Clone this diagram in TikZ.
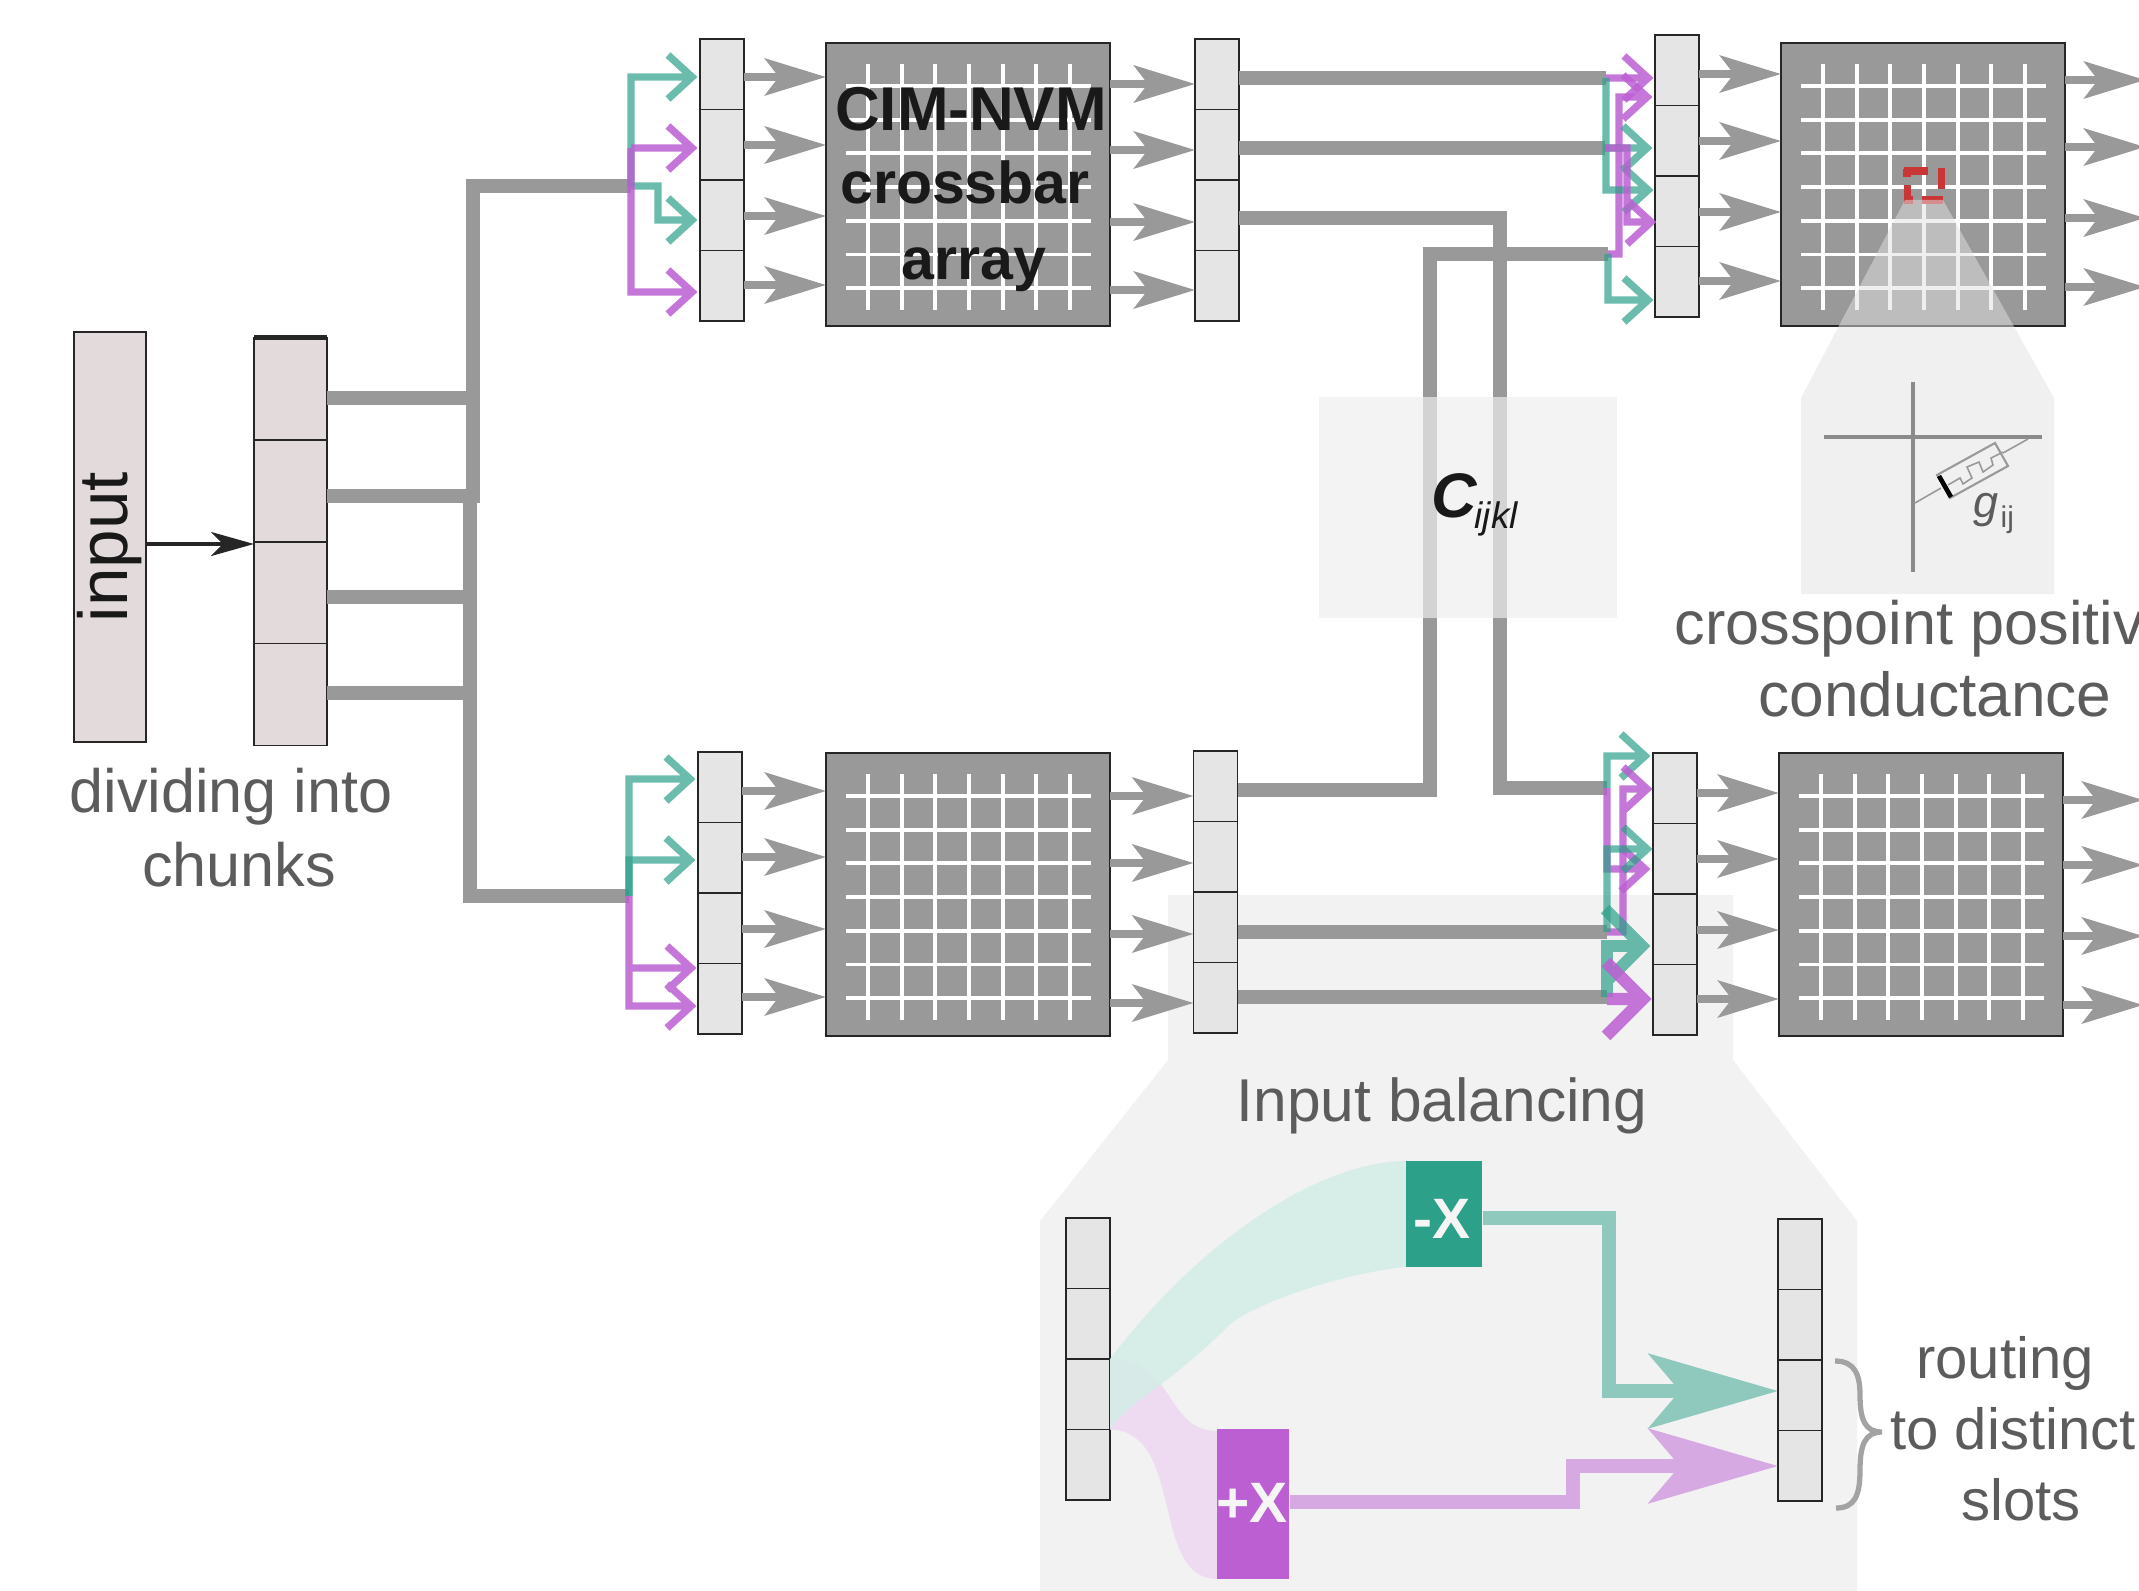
\documentclass[tikz,border=0pt]{standalone}
\usepackage{fontspec}
\setmainfont{Liberation Sans}
\usetikzlibrary{arrows.meta}
\definecolor{barfill}{HTML}{999999}
\definecolor{cellfill}{HTML}{E5E5E5}
\definecolor{chunkfill}{HTML}{E3DBDB}
\definecolor{edgedark}{HTML}{262626}
\definecolor{textgray}{HTML}{5C5C5C}
\definecolor{tealbase}{HTML}{2CA089}
\definecolor{violetbase}{HTML}{BB5FD2}
\definecolor{tealflow}{HTML}{D3EDE7}
\definecolor{violetflow}{HTML}{EEDBF2}
\definecolor{panelgray}{HTML}{F2F2F2}
\definecolor{lens}{HTML}{E1E1E1}
\definecolor{tensorgray}{HTML}{EEEEEE}
\definecolor{markred}{HTML}{C93636}
\tikzset{
  cell/.style={draw=edgedark, line width=.35pt, fill=cellfill, minimum width=.44cm, minimum height=.705cm, inner sep=0pt, outer sep=0pt},
  chunkcell/.style={cell, fill=chunkfill, line width=.5pt, minimum width=.73cm, minimum height=1.02cm},
  crossbar/.style={draw=edgedark, line width=.4pt, fill=barfill, minimum width=2.84cm, minimum height=2.83cm, inner sep=0pt, outer sep=0pt},
  gridline/.style={white, line width=1.1pt},
  bus/.style={barfill, line width=4.2pt},
  signal/.style={barfill, line width=2.1pt, -{Stealth[length=.61cm,width=.37cm,inset=.14cm]}},
  chev/.style={insert path={++(-24,-22) -- ++(24,22) -- ++(-24,22)}},
  chevbig/.style={insert path={++(-37,-37) -- ++(37,37) -- ++(-37,37)}},
  tealroute/.style={tealbase, draw opacity=.7, line width=2.1pt},
  violetroute/.style={violetbase, draw opacity=.85, line width=2.1pt},
  lbl/.style={anchor=base, inner sep=0pt, text=textgray, font=\fontsize{17.4}{20}\selectfont},
  sidelbl/.style={lbl, font=\fontsize{16.5}{20}\selectfont},
  boldlbl/.style={anchor=base, inner sep=0pt, text=black!90, font=\fontsize{17.6}{20}\selectfont\bfseries},
  signlbl/.style={anchor=base, inner sep=0pt, text=white!96!black, font=\fontsize{16.2}{20}\selectfont\bfseries},
  bigarrow/.style={line width=4.1pt, -{Stealth[length=1.29cm,width=.74cm,inset=.31cm]}},
}
\begin{document}
\begin{tikzpicture}[x=.01cm,y=-.01cm]
    \useasboundingbox (0,0) rectangle (2139,1591);

    % Shaded region behind the balancing detail
    \fill[panelgray] (1168,895) -- (1733,895) -- (1733,1060) -- (1857,1221) -- (1857,1591) -- (1040,1591) -- (1040,1221) -- (1168,1060) -- cycle;

    % Input and its chunks
    \node[chunkcell, minimum width=.72cm, minimum height=4.1cm] (input) at (110,537) {};
    \node[anchor=base, rotate=90, inner sep=0pt, text=black!90, font=\fontsize{19.7}{22}\selectfont] (inputlabel) at (127,547) {input};
    \foreach \k/\cy in {1/388.5, 2/491, 3/593, 4/694.5}
      \node[chunkcell] (chunk\k) at (290.5,\cy) {};
    \draw[edgedark, line width=1.2pt] (chunk1.north west) -- (chunk1.north east);
    \draw[edgedark, line width=1.35pt, -{Stealth[length=.43cm,width=.24cm,inset=.12cm]}] (input.east |- 0,544) -- (chunk3.west |- 0,544);

    % Crossbar arrays
    \foreach \n/\px/\py in {cbA/826/43, cbB/1781/43, cbC/826/753, cbD/1779/753} {
      \node[crossbar] (\n) at (\px+142,\py+141.5) {};
      \foreach \i in {0,...,6} {
        \draw[gridline] (\px+42+33.67*\i,\py+21) -- ++(0,246);
        \draw[gridline] (\px+20,\py+43+33.7*\i) -- ++(245,0);
      }
    }

    % Cell columns
    \foreach \n/\cx/\ty in {colA/722/39, colB/1217/39, colC/1677/35, colD/720/752, colE/1215.5/751, colF/1675/753, colG/1088/1218, colH/1800/1219}
      \foreach \k in {1,...,4}
        \node[cell] (\n\k) at (\cx,\ty+70.5*\k-35.25) {};

    % Where the buses end
    \coordinate (jA) at (631,186);
    \coordinate (jD) at (629,896);
    \coordinate (trunkT) at (473,186);
    \coordinate (trunkB) at (470,896);
    \coordinate (jB1) at (1606,78);
    \coordinate (jB2) at (1605,148);
    \coordinate (jB3) at (1608,254);
    \coordinate (jF1) at (1607,788);
    \coordinate (jF2) at (1607,932);
    \coordinate (jF3) at (1607,997);
    \coordinate (elbowB) at (1500,788);
    \coordinate (elbowE) at (1430,254);

    % Buses
    \draw[bus] (chunk2.east |- 0,496) -| (trunkT) -- (jA);
    \draw[bus] (chunk1.east |- 0,398) -- (trunkT |- 0,398);
    \draw[bus] (trunkB |- 0,490) -- (trunkB) -- (jD);
    \draw[bus] (chunk3.east |- 0,597) -- (trunkB |- 0,597);
    \draw[bus] (chunk4.east |- 0,693) -- (trunkB |- 0,693);
    \draw[bus] (colB1.east |- jB1) -- (jB1);
    \draw[bus] (colB2.east |- jB2) -- (jB2);
    \draw[bus] (colB3.east |- 0,218) -| (elbowB) -- (jF1);
    \draw[bus] (colE1.east |- 0,790) -| (elbowE) -- (jB3);
    \draw[bus] (colE3.east |- jF2) -- (jF2);
    \draw[bus] (colE4.east |- jF3) -- (jF3);

    % Signals through the arrays
    \foreach \a/\b/\y in {colA1/cbA/77, colA2/cbA/145, colA3/cbA/216, colA4/cbA/285,
                          colC1/cbB/74, colC2/cbB/141, colC3/cbB/212, colC4/cbB/281,
                          colD1/cbC/791, colD2/cbC/857, colD3/cbC/929, colD4/cbC/997,
                          colF1/cbD/793, colF2/cbD/859, colF3/cbD/930, colF4/cbD/999}
      \draw[signal] (\a.east |- 0,\y) -- (\b.west |- 0,\y);
    \foreach \a/\b/\y in {cbA/colB1/84, cbA/colB2/150, cbA/colB3/222, cbA/colB4/290,
                          cbC/colE1/796, cbC/colE2/863, cbC/colE3/934, cbC/colE4/1003}
      \draw[signal] (\a.east |- 0,\y) -- (\b.west |- 0,\y);
    \foreach \a/\y in {cbB/80, cbB/147, cbB/218, cbB/287, cbD/800, cbD/865, cbD/936, cbD/1005}
      \draw[signal] (\a.east |- 0,\y) -- ++(80,0);

    % Tips of the routing arrows
    \foreach \n/\tx/\ty in {tA1/692/77, tA2/692/148, tA3/692/220, tA4/692/292,
                            tC1/1648/78, tC2/1647/97, tC3/1648/190, tC4/1647/148, tC5/1651/222, tC6/1648/300,
                            tD1/690/779, tD2/690/860, tD3/691/968, tD4/691/1006,
                            tF1/1645/756, tF2/1645/869, tF3/1647/789, tF4/1647/849, tF5/1642/946, tF6/1643/999}
      \coordinate (\n) at (\tx,\ty);

    % Routing, upper left
    \draw[tealroute] (jA) |- (tA1) [chev];
    \draw[tealroute] (jA) -- ++(27,0) |- (tA3) [chev];
    \draw[violetroute] (jA |- tA2) -- (tA2) [chev] (jA |- tA2) |- (tA4) [chev];

    % Routing, upper right
    \draw[violetroute] (jB1) -- (tC1) [chev];
    \draw[violetroute] (jB3) -- ++(11,0) |- (tC2) [chev];
    \draw[tealroute] (jB1) |- (tC3) [chev];
    \draw[tealroute] (jB2) -- (tC4) [chev];
    \draw[violetroute] (jB2) -- ++(22,0) |- (tC5) [chev];
    \draw[tealroute] (jB3) |- (tC6) [chev];

    % Routing, lower left
    \draw[tealroute] (jD) |- (tD1) [chev];
    \draw[tealroute] (jD) |- (tD2) [chev];
    \draw[violetroute] (jD |- tD3) -- (tD3) [chev] (jD) |- (tD4) [chev];

    % Routing, lower right
    \draw[tealroute] (jF1) |- (tF1) [chev];
    \draw[violetroute] (jF1) |- (tF2) [chev];
    \draw[violetroute] (jF2) -- ++(16,0) |- (tF3) [chev];
    \draw[tealroute] (jF2) |- (tF4) [chev];
    \draw[tealroute, line width=3.4pt] (jF3) |- (tF5) [chevbig];
    \draw[violetroute, line width=3.5pt] (jF3 |- tF6) -- (tF6) [chevbig];

    % Tensor box over the crossing buses
    \node[fill=tensorgray, fill opacity=.69, minimum width=2.98cm, minimum height=2.21cm, inner sep=0pt] (tensorbox) at (1468,507.5) {};
    \node[anchor=base west, inner sep=0pt, text=black!90, font=\fontsize{17.9}{20}\selectfont\bfseries\itshape] (tensorC) at (1431,517) {C};
    \node[anchor=base west, inner sep=0pt, text=black!90, font=\fontsize{10.5}{12}\selectfont\itshape] (tensorsub) at (1474,528) {ijkl};

    % Array caption
    \node[boldlbl] (capone) at (971,131) {CIM-NVM};
    \node[boldlbl, font=\fontsize{16.8}{20}\selectfont\bfseries] (captwo) at (965,204) {crossbar};
    \node[boldlbl, font=\fontsize{16.8}{20}\selectfont\bfseries] (capthree) at (974,279) {array};

    % Crosspoint detail
    \draw[markred, line width=2pt] (1903,173) -- (1907,173) -- (1907,171) -- (1928,171) (1941,168) -- (1941,189) (1943,200) -- (1922,200) (1913,200) -- (1907,200) -- (1907,185);
    \fill[lens, fill opacity=.51] (1905,200) -- (1943,200) -- (2054,398) -- (2054,594) -- (1801,594) -- (1801,398) -- cycle;
    \draw[black, draw opacity=.42, line width=1.3pt] (1913,382) -- (1913,572) (1824,437) -- (2042,437);
    \draw[barfill, line width=.45pt] (1915,503) -- (1941,488) (2003,453) -- (2028,439);
    \draw[barfill, line width=.6pt] (1937,475) -- (1995,443) -- (2008,466) -- (1950,498) -- cycle;
    \draw[barfill, line width=.45pt] (1948,485) -- (1960,478) -- (1963,484) -- (1972,478) -- (1967,467) -- (1979,462) -- (1983,472) -- (1993,465) -- (1991,458) -- (2003,452);
    \draw[black, line width=1.3pt] (1939,476) -- (1951,497);
    \node[anchor=base west, inner sep=0pt, text=textgray, font=\fontsize{12.8}{14}\selectfont\itshape] (glabel) at (1973,517) {g};
    \node[anchor=base west, inner sep=0pt, text=textgray, font=\fontsize{8.5}{10}\selectfont] (gsub) at (2000,527) {ij};

    % Balancing detail
    \fill[violetflow] (colG3.north east) .. controls (1175,1359) and (1165,1431) .. (1217,1431) -- (1217,1579) .. controls (1150,1579) and (1185,1431) .. (colG4.north east) -- cycle;
    \fill[tealflow, fill opacity=.85] (colG3.north east) .. controls (1200,1240) and (1320,1161) .. (1406,1161) -- (1406,1267) .. controls (1350,1272) and (1260,1300) .. (1229,1325) .. controls (1170,1385) and (1130,1400) .. (colG4.north east) -- cycle;
    \node[fill=tealbase, minimum width=.76cm, minimum height=1.06cm, inner sep=0pt] (minusbox) at (1444,1214) {};
    \node[fill=violetbase, minimum width=.72cm, minimum height=1.5cm, inner sep=0pt] (plusbox) at (1253,1504) {};
    \node[signlbl] (minuslabel) at (1442,1238) {-X};
    \node[signlbl] (pluslabel) at (1252,1522) {+X};
    \coordinate (elbowT) at (1609,1391);
    \coordinate (elbowP) at (1573,1466);
    \draw[bigarrow, color={tealbase!50!panelgray}] (minusbox.east |- 0,1218) -| (elbowT) -- (colH3.west |- elbowT);
    \draw[bigarrow, color={violetbase!50!panelgray}] (plusbox.east |- 0,1502) -| (elbowP) -- (colH4.west |- elbowP);

    % Brace
    \draw[barfill!90!white, line width=1.5pt] (1835,1361) .. controls (1855,1361) and (1860,1375) .. (1860,1395) .. controls (1860,1420) and (1865,1432) .. (1882,1432) .. controls (1865,1432) and (1860,1445) .. (1860,1470) .. controls (1860,1495) and (1855,1508) .. (1836,1508);

    % Labels
    \node[lbl] (dividing) at (231,812) {dividing into};
    \node[lbl] (chunks) at (239,886) {chunks};
    \node[lbl, anchor=base west] (crosspoint) at (1674,644) {crosspoint positive};
    \node[lbl, font=\fontsize{17.7}{20}\selectfont] (conductance) at (1935,716) {conductance};
    \node[lbl, font=\fontsize{17.2}{20}\selectfont] (balancing) at (1442,1121) {Input balancing};
    \node[sidelbl] (routing) at (2005,1378) {routing};
    \node[sidelbl] (distinct) at (2013,1449) {to distinct};
    \node[sidelbl] (slots) at (2021,1520) {slots};
\end{tikzpicture}
\end{document}
